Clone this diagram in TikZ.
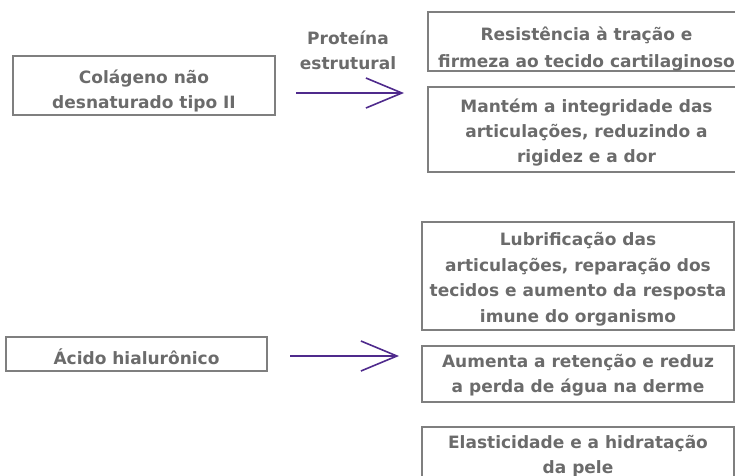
\documentclass[tikz,border=0pt]{standalone}
\usepackage{fontspec}
\setmainfont{DejaVu Sans}
\usetikzlibrary{arrows.meta}
\definecolor{txt-gray}{HTML}{6B6B6B}
\definecolor{box-gray}{HTML}{7F7F7F}
\definecolor{arr-purple}{HTML}{4F2A8C}
\newcommand{\lowline}[2][8pt]{\raisebox{-#1}[0pt][0pt]{#2}}
\tikzset{
  item/.style={draw=box-gray, line width=1.1pt, align=center, inner sep=0pt,
    text=txt-gray, font=\fontsize{17}{25}\selectfont\bfseries},
  tag/.style={align=center, inner sep=0pt, text=txt-gray,
    font=\fontsize{17}{25}\selectfont\bfseries},
  link/.style={draw=arr-purple, line width=1.6pt,
    -{Straight Barb[length=36pt, width=30pt, line width=1.6pt]}},
}

\begin{document}
\begin{tikzpicture}[x=1pt, y=-1pt]
\useasboundingbox (0,0) rectangle (735,475);
\clip (0,0) rectangle (735,475);
% sources
\node[item, minimum width=262pt, minimum height=59pt] at (144,85.5) (colageno) {\lowline[10pt]{Colágeno não}\\\lowline[10pt]{desnaturado tipo II}};
\node[item, minimum width=261pt, minimum height=34pt] at (136.5,354) (acido) {\lowline[10pt]{Ácido hialurônico}};
% effects
\node[item, minimum width=317pt, minimum height=59pt, font=\fontsize{17}{27}\selectfont\bfseries] at (586.5,41.5) (tracao) {\lowline[12pt]{Resistência à tração e}\\\lowline[12pt]{firmeza ao tecido cartilaginoso}};
\node[item, minimum width=317pt, minimum height=85pt] at (586.5,129.5) (integridade) {\lowline{Mantém a integridade das}\\\lowline{articulações, reduzindo a}\\\lowline{rigidez e a dor}};
\node[item, minimum width=312pt, minimum height=108pt, font=\fontsize{17}{25.5}\selectfont\bfseries] at (578,276) (lubrificacao) {\lowline{Lubrificação das}\\\lowline{articulações, reparação dos}\\\lowline{tecidos e aumento da resposta}\\\lowline{imune do organismo}};
\node[item, minimum width=312pt, minimum height=56pt] at (578,374) (retencao) {\lowline[6pt]{Aumenta a retenção e reduz}\\\lowline[6pt]{a perda de água na derme}};
\node[item, minimum width=312pt, minimum height=57pt] at (578,455.5) (elasticidade) {\lowline[5pt]{Elasticidade e a hidratação}\\\lowline[5pt]{da pele}};
% arrows
\node[tag] at (348,50) (proteina) {Proteína\\estrutural};
\coordinate (arr1s) at (296,93);
\coordinate (arr1e) at (404,93);
\draw[link] (arr1s) -- (arr1e);
\coordinate (arr2s) at (290,356);
\coordinate (arr2e) at (399,356);
\draw[link] (arr2s) -- (arr2e);
\end{tikzpicture}
\end{document}
